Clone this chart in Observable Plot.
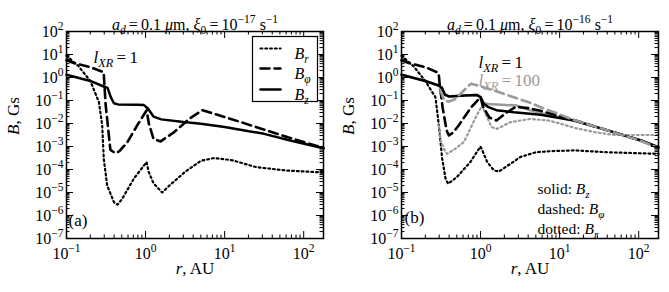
<!DOCTYPE html>
<html><head><meta charset="utf-8">
<script src="https://cdn.jsdelivr.net/npm/d3@7"></script>
<script src="https://cdn.jsdelivr.net/npm/@observablehq/plot@0.6"></script>
<style>
body{margin:0;background:#fff;}
#wrap{display:flex;width:669px;height:292px;}
#wrap svg text{font-family:"Liberation Serif","DejaVu Serif",serif !important;}
</style></head><body><div id="wrap"></div>
<script>
// ---------- axes ----------
const xDomain = [0.1, 178];
const yDomain = [1e-7, 1e2];
const xMajor = [0.1, 1, 10, 100];
const yMajor = [1e-7, 1e-6, 1e-5, 1e-4, 1e-3, 1e-2, 1e-1, 1, 10, 100];
const minorMult = [2, 3, 4, 5, 6, 7, 8, 9];

// ---------- panel (a): xi0 = 1e-17, l_XR = 1 ----------
const rBzA = [0.1, 0.2, 0.295, 0.331, 0.363, 0.398, 0.447, 0.794, 0.955, 1.07, 1.26, 1.58, 3.02, 5.01, 10, 31.6, 67.6, 178];
const bzA  = [1.32, 0.708, 0.407, 0.355, 0.141, 0.0759, 0.0676, 0.0661, 0.0631, 0.0447, 0.02, 0.0151, 0.0115, 0.00977, 0.00708, 0.00355, 0.00182, 0.000832];
const rBphiA = [0.1, 0.126, 0.2, 0.295, 0.313, 0.359, 0.417, 0.468, 0.589, 0.794, 1.0, 1.03, 1.1, 1.26, 1.55, 2.29, 3.55, 5.25, 15.8, 63.1, 100, 178];
const bphiA  = [5.62, 4.17, 2.82, 1.70, 0.0631, 7.08e-4, 5.13e-4, 6.31e-4, 1.55e-3, 8.91e-3, 0.0316, 0.0372, 0.01, 2.14e-3, 1.66e-3, 4.17e-3, 0.0158, 0.038, 0.0117, 2.51e-3, 1.58e-3, 8.51e-4];
const rBrA = [0.1, 0.141, 0.2, 0.257, 0.283, 0.296, 0.327, 0.398, 0.44, 0.501, 0.71, 1.03, 1.096, 1.26, 1.62, 2.0, 3.16, 5.01, 7.41, 12.6, 25.1, 63.1, 178];
const brA  = [8.91, 3.16, 0.708, 0.0851, 8.13e-3, 2.95e-4, 2.0e-5, 3.8e-6, 2.95e-6, 5.01e-6, 3.98e-5, 2.09e-4, 7.94e-5, 2.51e-5, 1.0e-5, 2.0e-5, 7.94e-5, 2.4e-4, 3.16e-4, 2.51e-4, 1.26e-4, 8.91e-5, 7.41e-5];

// ---------- panel (b): xi0 = 1e-16, l_XR = 1 (black) ----------
const rBzB = [0.1, 0.2, 0.295, 0.324, 0.355, 0.398, 0.631, 0.891, 1.0, 1.096, 1.26, 1.585, 2.63, 5.75, 15.1, 40.7, 107, 178];
const bzB  = [1.32, 0.708, 0.447, 0.355, 0.178, 0.151, 0.166, 0.174, 0.141, 0.0724, 0.0513, 0.038, 0.0309, 0.024, 0.0135, 5.01e-3, 1.82e-3, 9.33e-4];
const rBphiB = [0.1, 0.126, 0.2, 0.295, 0.302, 0.331, 0.372, 0.398, 0.447, 0.525, 0.759, 1.0, 1.072, 1.288, 1.585, 2.089, 2.754, 3.981, 5.754, 15.14, 40.74, 107.2, 177.8];
const bphiB  = [5.62, 4.17, 2.82, 1.58, 0.631, 0.0501, 5.01e-3, 3.02e-3, 3.98e-3, 7.94e-3, 0.0501, 0.138, 0.055, 0.0182, 0.0135, 0.0282, 0.0525, 0.0468, 0.0355, 0.0141, 5.01e-3, 1.78e-3, 8.91e-4];
const rBrB = [0.1, 0.141, 0.2, 0.269, 0.297, 0.327, 0.361, 0.389, 0.501, 0.741, 1.0, 1.216, 1.479, 1.698, 2.399, 3.162, 5.012, 7.943, 15.85, 39.81, 177.8];
const brB  = [8.91, 3.16, 0.708, 0.138, 8.13e-3, 2.95e-4, 3.98e-5, 2.4e-5, 4.68e-5, 2.09e-4, 1.0e-3, 2.09e-4, 9.12e-5, 8.13e-5, 1.78e-4, 3.47e-4, 5.62e-4, 6.31e-4, 6.76e-4, 5.62e-4, 4.79e-4];

// ---------- panel (b): l_XR = 100 (grey) ----------
const rBzG = [0.1, 0.2, 0.295, 0.324, 0.355, 0.398, 0.631, 0.891, 1.0, 1.096, 1.259, 2.884, 4.266, 6.31, 15.14, 40.74, 107.2, 177.8];
const bzG  = [1.32, 0.708, 0.447, 0.355, 0.178, 0.151, 0.166, 0.174, 0.141, 0.0759, 0.0708, 0.0603, 0.0372, 0.0263, 0.0135, 5.01e-3, 1.82e-3, 9.33e-4];
const rBphiG = [0.309, 0.347, 0.398, 0.479, 0.676, 0.759, 1.0, 1.622, 2.63, 4.266, 6.31, 10, 15.14, 40.74, 107.2, 177.8];
const bphiG  = [0.282, 0.1, 0.0891, 0.117, 0.38, 0.537, 0.417, 0.245, 0.138, 0.0794, 0.0447, 0.0251, 0.0141, 5.01e-3, 1.74e-3, 8.71e-4];
const rBrG = [0.297, 0.316, 0.355, 0.38, 0.501, 0.617, 0.891, 1.047, 1.148, 1.38, 1.622, 2.399, 4.266, 7.244, 10, 15.85, 28.18, 50.12, 100, 177.8];
const brG  = [8.13e-3, 1.58e-3, 6.31e-4, 4.79e-4, 8.91e-4, 1.58e-3, 0.0224, 0.0603, 0.0269, 6.92e-3, 5.89e-3, 0.0115, 0.0158, 0.0135, 0.01, 6.31e-3, 4.17e-3, 3.16e-3, 3.16e-3, 3.16e-3];

// ---------- texts ----------
const titleA = "*a*_{*d*}\u2009=\u20090.1 *μ*m, *ξ*_{0}\u2009=\u200910^{−17} s^{−1}";
const titleB = "*a*_{*d*}\u2009=\u20090.1 *μ*m, *ξ*_{0}\u2009=\u200910^{−16} s^{−1}";
const xLabel = "*r*, AU";
const yLabel = "*B*, Gs";
const legendLabels = ["*B*_{*r*}", "*B*_{*φ*}", "*B*_{*z*}"];
const styleNotes = ["solid: *B*_{*z*}", "dashed: *B*_{*φ*}", "dotted: *B*_{*r*}"];
const lxr1 = "*l*_{*XR*}\u2009=\u20091";
const lxr100 = "*l*_{*XR*}\u2009=\u2009100";

const BLACK = "#000", GREY = "#999";
const SOLID = {strokeWidth: 2.5};
const DASHED = {strokeWidth: 2.6, strokeDasharray: "9,5"};
const DOTTED = {strokeWidth: 2.2, strokeDasharray: "1.8,3"};

const lineShape = {draw(ctx, l) { ctx.moveTo(0, 0); ctx.lineTo(0, -l); }};
const fmt = d => `10^{${Math.round(Math.log10(d)).toString().replace("-", "−")}}`;
const xMinor = xMajor.flatMap(d => minorMult.map(m => d * m)).filter(v => v < xDomain[1]);
const yMinor = yMajor.flatMap(d => minorMult.map(m => d * m)).filter(v => v < yDomain[1]);

const FS = 16;

function series(r, b, color, st) {
  return Plot.line(d3.zip(r, b), {x: d => d[0], y: d => d[1], stroke: color, ...st});
}

function panel({width, marginRight, lines, extras}) {
  const H = 292, mt = 31, mb = 54, ml = 66;
  const fw = width - ml - marginRight, fh = H - mt - mb;
  const tk = (len) => [
    Plot.tickX(len > 4 ? xMajor : xMinor, {x: d => d, insetTop: fh - len, stroke: "black"}),
    Plot.tickX(len > 4 ? xMajor : xMinor, {x: d => d, insetBottom: fh - len, stroke: "black"}),
    Plot.tickY(len > 4 ? yMajor : yMinor, {y: d => d, insetRight: fw - len, stroke: "black"}),
    Plot.tickY(len > 4 ? yMajor : yMinor, {y: d => d, insetLeft: fw - len, stroke: "black"})
  ];
  return Plot.plot({
    width, height: H, marginTop: mt, marginBottom: mb, marginLeft: ml, marginRight,
    x: {type: "log", domain: xDomain},
    y: {type: "log", domain: yDomain},
    style: {fontFamily: "Liberation Serif", fontSize: "16px", background: "#fff", color: "#000", overflow: "visible"},
    marks: [
      ...lines,
      ...tk(7), ...tk(3.5),
      Plot.frame({stroke: "black", strokeWidth: 1.5}),
      Plot.axisX({ticks: xMajor, tickFormat: fmt, tickSize: 0, tickPadding: 9, label: null, fontSize: 16}),
      Plot.axisY({ticks: yMajor, tickFormat: fmt, tickSize: 0, tickPadding: 3, label: null, fontSize: 16}),
      Plot.text([xLabel], {text: d => d, frameAnchor: "bottom", dy: 35, fontSize: 17}),
      Plot.text([yLabel], {text: d => d, frameAnchor: "left", dx: -53, rotate: -90, fontSize: 17}),
      ...extras
    ]
  });
}

const plotA = panel({
  width: 335, marginRight: 12,
  lines: [
    series(rBrA, brA, BLACK, DOTTED),
    series(rBphiA, bphiA, BLACK, DASHED),
    series(rBzA, bzA, BLACK, SOLID)
  ],
  extras: [
    Plot.text([titleA], {text: d => d, frameAnchor: "top", dy: -13, fontSize: FS}),
    Plot.text([lxr1], {text: d => d, frameAnchor: "top-left", dx: 27, dy: 19, textAnchor: "start", fontSize: 17}),
    Plot.frame({stroke: "black", strokeWidth: 1.2, fill: "white", insetLeft: 186, insetRight: 6, insetTop: 5, insetBottom: 137}),
    Plot.vector([0], {frameAnchor: "top-right", dx: -63, dy: 17, length: 20, rotate: 90, anchor: "start", shape: lineShape, stroke: BLACK, ...DOTTED}),
    Plot.vector([0], {frameAnchor: "top-right", dx: -63, dy: 37, length: 20, rotate: 90, anchor: "start", shape: lineShape, stroke: BLACK, ...DASHED}),
    Plot.vector([0], {frameAnchor: "top-right", dx: -63, dy: 58, length: 20, rotate: 90, anchor: "start", shape: lineShape, stroke: BLACK, ...SOLID}),
    Plot.text([legendLabels[0]], {text: d => d, frameAnchor: "top-right", dx: -29, dy: 16, textAnchor: "start", fontSize: FS}),
    Plot.text([legendLabels[1]], {text: d => d, frameAnchor: "top-right", dx: -29, dy: 36, textAnchor: "start", fontSize: FS}),
    Plot.text([legendLabels[2]], {text: d => d, frameAnchor: "top-right", dx: -29, dy: 57, textAnchor: "start", fontSize: FS}),
    Plot.text(["(a)"], {text: d => d, frameAnchor: "bottom-left", dx: 2, dy: -13, textAnchor: "start", fontSize: 17})
  ]
});

const plotB = panel({
  width: 334, marginRight: 11,
  lines: [
    series(rBzG, bzG, GREY, SOLID),
    series(rBzB, bzB, BLACK, SOLID),
    series(rBrB, brB, BLACK, DOTTED),
    series(rBrG, brG, GREY, DOTTED),
    series(rBphiB, bphiB, BLACK, DASHED),
    series(rBphiG, bphiG, GREY, DASHED)
  ],
  extras: [
    Plot.text([titleB], {text: d => d, frameAnchor: "top", dy: -13, fontSize: FS}),
    Plot.text([lxr1], {text: d => d, frameAnchor: "top-left", dx: 77, dy: 24, textAnchor: "start", fontSize: 17}),
    Plot.text([lxr100], {text: d => d, frameAnchor: "top-left", dx: 77, dy: 42, textAnchor: "start", fontSize: 17, fill: GREY}),
    Plot.text([styleNotes[0]], {text: d => d, frameAnchor: "top-left", dx: 136, dy: 151, textAnchor: "start", fontSize: 15.5}),
    Plot.text([styleNotes[1]], {text: d => d, frameAnchor: "top-left", dx: 136, dy: 171, textAnchor: "start", fontSize: 15.5}),
    Plot.text([styleNotes[2]], {text: d => d, frameAnchor: "top-left", dx: 136, dy: 191, textAnchor: "start", fontSize: 15.5}),
    Plot.text(["(b)"], {text: d => d, frameAnchor: "bottom-left", dx: 3, dy: -16, textAnchor: "start", fontSize: 17})
  ]
});

const wrap = document.getElementById("wrap");
wrap.appendChild(plotA);
wrap.appendChild(plotB);

// rich text: *italic*, _{sub}, ^{sup}
function parseRich(s) {
  const out = []; let mode = "n", italic = false, buf = "";
  const push = () => { if (buf) out.push({text: buf, mode, italic}); buf = ""; };
  for (let i = 0; i < s.length; i++) {
    const c = s[i];
    if ((c === "_" || c === "^") && s[i + 1] === "{") { push(); mode = c === "_" ? "sub" : "sup"; i++; }
    else if (c === "}" && mode !== "n") { push(); mode = "n"; }
    else if (c === "*") { push(); italic = !italic; }
    else buf += c;
  }
  push();
  return out;
}
function richify(svg) {
  svg.querySelectorAll("text").forEach(t => {
    if (t.querySelector("tspan")) return;
    const s = t.textContent;
    if (!/[*]|_\{|\^\{/.test(s)) return;
    const fs = parseFloat(getComputedStyle(t).fontSize) || 16;
    const segs = parseRich(s);
    t.textContent = "";
    let shift = 0;
    for (const seg of segs) {
      const ts = document.createElementNS("http://www.w3.org/2000/svg", "tspan");
      const target = seg.mode === "sub" ? 0.26 * fs : seg.mode === "sup" ? -0.42 * fs : 0;
      ts.setAttribute("dy", (target - shift).toFixed(2));
      shift = target;
      if (seg.mode !== "n") ts.setAttribute("font-size", (0.72 * fs).toFixed(2));
      if (seg.italic) ts.setAttribute("font-style", "italic");
      ts.textContent = seg.text;
      t.appendChild(ts);
    }
  });
}
richify(plotA);
richify(plotB);
</script></body></html>
